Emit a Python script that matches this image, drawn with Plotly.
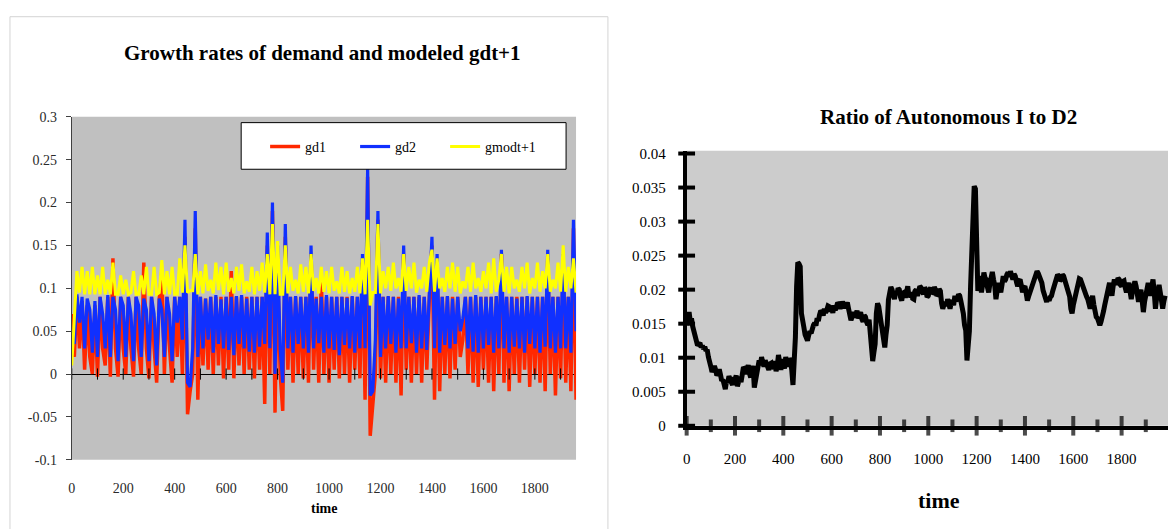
import plotly.graph_objects as go

W, H = 1168, 529

# ---------------- data ----------------
T_LEFT = list(range(0, 1961, 10))

GD1 = [
    0.07, 0.02, 0.09, 0.03, 0.085, 0.005, 0.08, 0.02, 0.0, 0.08,
    -0.003, 0.09, 0.03, 0.01, 0.09, -0.003, 0.135, 0.03, -0.003, 0.09,
    0.03, 0.0, 0.09, 0.03, -0.003, 0.09, 0.03, 0.0, 0.13, 0.03,
    -0.005, 0.09, 0.03, -0.01, 0.088, 0.12, 0.0, 0.09, 0.03, -0.01,
    0.09, 0.02, 0.09, 0.0, 0.16, -0.047, -0.02, 0.0, 0.17, -0.03,
    0.09, 0.01, 0.088, 0.005, 0.09, 0.0, 0.09, 0.01, 0.09, -0.005,
    0.09, 0.005, 0.12, -0.005, 0.09, 0.01, 0.09, 0.0, 0.09, 0.005,
    0.09, -0.005, 0.09, 0.005, 0.09, -0.035, 0.15, 0.0, 0.19, -0.045,
    0.13, 0.0, -0.043, 0.16, 0.005, 0.09, -0.01, 0.09, 0.0, 0.09,
    -0.005, 0.09, -0.01, 0.14, 0.005, 0.09, -0.01, 0.11, 0.0, 0.09,
    -0.01, 0.09, 0.005, 0.09, -0.005, 0.09, 0.0, 0.09, -0.01, 0.09,
    0.005, 0.09, -0.005, 0.13, -0.03, 0.23, -0.072, -0.03, 0.0, 0.18,
    -0.005, 0.09, -0.01, 0.09, 0.0, 0.09, -0.01, 0.09, -0.025, 0.14,
    0.005, 0.09, -0.01, 0.09, 0.0, 0.09, -0.01, 0.09, 0.005, 0.09,
    0.15, -0.03, 0.13, -0.02, 0.09, 0.0, 0.09, -0.005, 0.09, 0.005,
    0.09, 0.02, 0.04, 0.09, 0.0, 0.09, -0.01, 0.09, -0.015, 0.09,
    0.005, 0.09, -0.01, 0.09, -0.02, 0.09, 0.0, 0.14, -0.01, 0.09,
    -0.02, 0.09, 0.0, 0.09, -0.01, 0.09, 0.005, 0.09, -0.015, 0.09,
    0.0, 0.09, -0.01, 0.09, -0.02, 0.135, 0.0, 0.09, -0.025, 0.09,
    -0.005, 0.13, -0.01, 0.09, -0.02, 0.17, -0.03,
]

GD2 = [
    0.05, 0.035, 0.093, 0.06, 0.09, 0.03, 0.088, 0.075, 0.025, 0.085,
    0.02, 0.09, 0.07, 0.03, 0.092, 0.02, 0.09, 0.075, 0.015, 0.09,
    0.08, 0.02, 0.09, 0.07, 0.015, 0.09, 0.08, 0.02, 0.088, 0.075,
    0.015, 0.09, 0.07, 0.01, 0.088, 0.075, 0.02, 0.09, 0.07, 0.015,
    0.09, 0.06, 0.09, 0.04, 0.18, -0.01, -0.015, 0.03, 0.19, 0.02,
    0.09, 0.03, 0.088, 0.04, 0.09, 0.025, 0.092, 0.035, 0.087, 0.03,
    0.09, 0.028, 0.09, 0.022, 0.091, 0.035, 0.092, 0.03, 0.088, 0.026,
    0.09, 0.025, 0.09, 0.032, 0.09, 0.035, 0.165, 0.03, 0.2, 0.0,
    0.15, 0.03, -0.01, 0.175, 0.03, 0.09, 0.025, 0.091, 0.035, 0.09,
    0.03, 0.09, 0.025, 0.15, 0.03, 0.088, 0.036, 0.09, 0.025, 0.092,
    0.03, 0.09, 0.028, 0.09, 0.022, 0.09, 0.034, 0.089, 0.03, 0.091,
    0.025, 0.09, 0.03, 0.14, 0.03, 0.24, -0.025, -0.02, 0.04, 0.19,
    0.02, 0.09, 0.03, 0.091, 0.035, 0.09, 0.025, 0.088, 0.03, 0.15,
    0.03, 0.09, 0.036, 0.09, 0.025, 0.092, 0.03, 0.09, 0.028, 0.09,
    0.16, 0.03, 0.14, 0.025, 0.09, 0.034, 0.091, 0.03, 0.088, 0.035,
    0.09, 0.05, 0.065, 0.09, 0.03, 0.09, 0.026, 0.092, 0.025, 0.09,
    0.03, 0.09, 0.034, 0.09, 0.025, 0.091, 0.03, 0.145, 0.03, 0.09,
    0.025, 0.09, 0.032, 0.088, 0.03, 0.09, 0.025, 0.091, 0.035, 0.09,
    0.03, 0.09, 0.025, 0.09, 0.032, 0.145, 0.03, 0.09, 0.025, 0.09,
    0.03, 0.14, 0.03, 0.09, 0.025, 0.18, 0.05,
]

GMOD = [
    0.01, 0.06, 0.12, 0.095, 0.125, 0.093, 0.12, 0.093, 0.125, 0.093,
    0.115, 0.093, 0.125, 0.093, 0.11, 0.093, 0.13, 0.093, 0.093, 0.115,
    0.093, 0.11, 0.093, 0.095, 0.12, 0.093, 0.093, 0.115, 0.093, 0.125,
    0.093, 0.093, 0.125, 0.093, 0.095, 0.133, 0.093, 0.12, 0.093, 0.125,
    0.093, 0.093, 0.135, 0.095, 0.15, 0.095, 0.097, 0.097, 0.14, 0.093,
    0.12, 0.094, 0.128, 0.097, 0.11, 0.094, 0.13, 0.098, 0.125, 0.093,
    0.13, 0.096, 0.112, 0.094, 0.125, 0.097, 0.128, 0.094, 0.108, 0.096,
    0.125, 0.093, 0.12, 0.097, 0.13, 0.095, 0.14, 0.093, 0.175, 0.093,
    0.155, 0.093, 0.093, 0.15, 0.094, 0.125, 0.097, 0.11, 0.094, 0.128,
    0.096, 0.125, 0.094, 0.14, 0.097, 0.112, 0.094, 0.125, 0.096, 0.12,
    0.094, 0.125, 0.097, 0.108, 0.094, 0.125, 0.096, 0.12, 0.094, 0.112,
    0.096, 0.125, 0.094, 0.135, 0.093, 0.18, 0.08, 0.095, 0.095, 0.175,
    0.094, 0.12, 0.1, 0.125, 0.097, 0.13, 0.1, 0.112, 0.096, 0.14,
    0.097, 0.125, 0.1, 0.13, 0.095, 0.11, 0.1, 0.125, 0.096, 0.13,
    0.145, 0.096, 0.135, 0.1, 0.112, 0.096, 0.125, 0.1, 0.13, 0.096,
    0.125, 0.094, 0.108, 0.1, 0.125, 0.096, 0.13, 0.1, 0.112, 0.096,
    0.12, 0.1, 0.13, 0.094, 0.135, 0.096, 0.11, 0.14, 0.096, 0.125,
    0.094, 0.125, 0.1, 0.11, 0.096, 0.125, 0.1, 0.13, 0.094, 0.112,
    0.1, 0.13, 0.096, 0.12, 0.1, 0.14, 0.096, 0.11, 0.1, 0.13,
    0.096, 0.15, 0.096, 0.125, 0.1, 0.135, 0.095,
]

T_RIGHT = list(range(0, 1981, 5))

RATIO = [
    0.0148, 0.0162, 0.0167, 0.0154, 0.0158, 0.0146, 0.0139, 0.0128, 0.0125, 0.0118,
    0.012, 0.0122, 0.0115, 0.0118, 0.0113, 0.0116, 0.011, 0.0112, 0.0101, 0.0096,
    0.0087, 0.0079, 0.0082, 0.0088, 0.0082, 0.0074, 0.0077, 0.0083, 0.0075, 0.0066,
    0.0068, 0.0062, 0.0054, 0.0066, 0.0063, 0.0073, 0.007, 0.0064, 0.006, 0.0071,
    0.0068, 0.0074, 0.0058, 0.0066, 0.0072, 0.0064, 0.0077, 0.0086, 0.0084, 0.0076,
    0.0082, 0.0089, 0.0077, 0.0071, 0.0082, 0.0088, 0.0056, 0.0064, 0.0072, 0.0088,
    0.0096, 0.0089, 0.0101, 0.0093, 0.0087, 0.0096, 0.0092, 0.0085, 0.0082, 0.0091,
    0.0092, 0.0084, 0.0087, 0.0095, 0.008, 0.0088, 0.0104, 0.0093, 0.0082, 0.0098,
    0.0092, 0.0084, 0.0101, 0.0092, 0.0087, 0.0099, 0.0096, 0.0082, 0.006, 0.0095,
    0.013, 0.0205, 0.024, 0.0238, 0.0234, 0.0165, 0.0158, 0.0145, 0.0134, 0.0128,
    0.0125, 0.0133, 0.0139, 0.0136, 0.0144, 0.0148, 0.0151, 0.0147, 0.0158, 0.0154,
    0.0163, 0.0169, 0.0167, 0.0162, 0.0172, 0.0166, 0.017, 0.0176, 0.0175, 0.0168,
    0.0172, 0.0166, 0.0177, 0.017, 0.0175, 0.0181, 0.0179, 0.0172, 0.0177, 0.0182,
    0.0179, 0.0173, 0.0177, 0.0181, 0.0172, 0.0164, 0.0155, 0.016, 0.0167, 0.0159,
    0.0163, 0.0169, 0.0158, 0.0164, 0.0167, 0.0157, 0.0153, 0.0162, 0.016, 0.0152,
    0.0148, 0.0156, 0.0139, 0.0128, 0.0095, 0.0108, 0.012, 0.0165, 0.018, 0.0175,
    0.0165, 0.0148, 0.0139, 0.0128, 0.0115, 0.0134, 0.0148, 0.0185, 0.0196, 0.0204,
    0.02, 0.019, 0.0186, 0.0197, 0.0193, 0.0202, 0.02, 0.0189, 0.0184, 0.0195,
    0.0196, 0.0188, 0.02, 0.0205, 0.0189, 0.0194, 0.0196, 0.0187, 0.0186, 0.0198,
    0.02, 0.0191, 0.0196, 0.0205, 0.0203, 0.0195, 0.0193, 0.0203, 0.02, 0.0189,
    0.0191, 0.0199, 0.0203, 0.0194, 0.0196, 0.0204, 0.02, 0.0191, 0.0193, 0.0201,
    0.0198, 0.018, 0.0172, 0.0178, 0.0182, 0.0176, 0.0186, 0.0179, 0.0172, 0.0181,
    0.0184, 0.0177, 0.0191, 0.0184, 0.0186, 0.0193, 0.0191, 0.0183, 0.0177, 0.0165,
    0.0148, 0.014, 0.0096, 0.0112, 0.0139, 0.0205, 0.025, 0.0262, 0.0352, 0.0348,
    0.0205, 0.0198, 0.022, 0.0212, 0.0196, 0.0208, 0.0225, 0.0217, 0.0215, 0.0203,
    0.0196, 0.0209, 0.022, 0.0226, 0.0215, 0.0206, 0.0186, 0.0197, 0.021, 0.0203,
    0.0196, 0.0207, 0.022, 0.0212, 0.0215, 0.0222, 0.0225, 0.0219, 0.0227, 0.0221,
    0.0215, 0.0223, 0.022, 0.0211, 0.0205, 0.0213, 0.0215, 0.0206, 0.0196, 0.0203,
    0.0205, 0.0195, 0.0184, 0.019, 0.0196, 0.0201, 0.0205, 0.0211, 0.0215, 0.0222,
    0.0227, 0.0224, 0.022, 0.0214, 0.021, 0.0199, 0.0191, 0.0186, 0.0182, 0.0188,
    0.0184, 0.0189, 0.0191, 0.0198, 0.0205, 0.0211, 0.0215, 0.0222, 0.022, 0.0213,
    0.0215, 0.0222, 0.022, 0.0214, 0.021, 0.0204, 0.02, 0.019, 0.0172, 0.0165,
    0.0177, 0.0186, 0.0196, 0.0204, 0.021, 0.0216, 0.0215, 0.0209, 0.0205, 0.0199,
    0.0196, 0.019, 0.0186, 0.0178, 0.0172, 0.0183, 0.0191, 0.0178, 0.0167, 0.016,
    0.0158, 0.0152, 0.0148, 0.0153, 0.0158, 0.0168, 0.0177, 0.0184, 0.0191, 0.0203,
    0.021, 0.0199, 0.0191, 0.0205, 0.0215, 0.0208, 0.021, 0.0217, 0.0215, 0.0207,
    0.0205, 0.0212, 0.0213, 0.0203, 0.0196, 0.0205, 0.021, 0.0197, 0.0186, 0.0198,
    0.0205, 0.0212, 0.0205, 0.0193, 0.0182, 0.0194, 0.02, 0.0184, 0.0167, 0.0182,
    0.0196, 0.0204, 0.021, 0.0199, 0.0191, 0.0205, 0.0215, 0.0196, 0.0172, 0.0188,
    0.02, 0.0207, 0.0196, 0.0185, 0.0172, 0.0183, 0.0191,
]

X_TICKS = [0, 200, 400, 600, 800, 1000, 1200, 1400, 1600, 1800]
X_TICK_LABELS = ["0", "200", "400", "600", "800", "1000", "1200", "1400", "1600", "1800"]
X_MARKS = [0, 100, 200, 300, 400, 500, 600, 700, 800, 900, 1000,
           1100, 1200, 1300, 1400, 1500, 1600, 1700, 1800, 1900]
LEFT_Y_TICKS = [-0.1, -0.05, 0, 0.05, 0.1, 0.15, 0.2, 0.25, 0.3]
LEFT_Y_LABELS = ["-0.1", "-0.05", "0", "0.05", "0.1", "0.15", "0.2", "0.25", "0.3"]
RIGHT_Y_TICKS = [0, 0.005, 0.01, 0.015, 0.02, 0.025, 0.03, 0.035, 0.04]
RIGHT_Y_LABELS = ["0", "0.005", "0.01", "0.015", "0.02", "0.025", "0.03", "0.035", "0.04"]


def fx(p):
    return p / W


def fy(p):
    return 1 - p / H


SERIF = "Liberation Serif"

fig = go.Figure()

# left chart
fig.add_trace(go.Scatter(x=T_LEFT, y=GD1, mode="lines", name="gd1",
                         line=dict(color="#ff2800", width=3.5), xaxis="x", yaxis="y"))
fig.add_trace(go.Scatter(x=T_LEFT, y=GD2, mode="lines", name="gd2",
                         line=dict(color="#1030ff", width=3.2), xaxis="x", yaxis="y"))
fig.add_trace(go.Scatter(x=T_LEFT, y=GMOD, mode="lines", name="gmodt+1",
                         line=dict(color="#ffff00", width=3), xaxis="x", yaxis="y"))
# tick marks crossing the zero line
fig.add_trace(go.Scatter(x=X_MARKS, y=[0] * len(X_MARKS), mode="markers", showlegend=False,
                         marker=dict(symbol="line-ns", size=8, line=dict(color="black", width=1)),
                         cliponaxis=False, hoverinfo="skip", xaxis="x", yaxis="y"))

# right chart
fig.add_trace(go.Scatter(x=T_RIGHT, y=RATIO, mode="lines", showlegend=False,
                         line=dict(color="black", width=5), xaxis="x2", yaxis="y2"))
fig.add_trace(go.Scatter(x=X_MARKS, y=[0] * len(X_MARKS), mode="markers", showlegend=False,
                         marker=dict(symbol="line-ns",
                                     size=[14 if v in X_TICKS else 9 for v in X_MARKS],
                                     line=dict(color="black", width=4)),
                         cliponaxis=False, hoverinfo="skip", xaxis="x2", yaxis="y2"))
fig.add_trace(go.Scatter(x=[0] * len(RIGHT_Y_TICKS), y=RIGHT_Y_TICKS, mode="markers", showlegend=False,
                         marker=dict(symbol="line-ew", size=12, line=dict(color="black", width=4)),
                         cliponaxis=False, hoverinfo="skip", xaxis="x2", yaxis="y2"))

L_LEFT, L_RIGHT, L_TOP, L_BOT = 68, 574, 113, 466
R_LEFT, R_RIGHT, R_TOP, R_BOT = 685, 1168, 148, 431

fig.update_layout(
    width=W, height=H, autosize=False,
    margin=dict(l=0, r=0, t=0, b=0),
    paper_bgcolor="white", plot_bgcolor="rgba(0,0,0,0)",
    showlegend=True,
    xaxis=dict(domain=[fx(L_LEFT), fx(L_RIGHT)], range=[0, 1960], anchor="y",
               tickvals=X_TICKS, ticktext=X_TICK_LABELS, ticks="", showline=False,
               showgrid=False, zeroline=False, ticklabelstandoff=18,
               tickfont=dict(family=SERIF, size=14, color="#2a2a2a")),
    yaxis=dict(domain=[fy(L_BOT), fy(L_TOP)], range=[-0.1, 0.3], anchor="x",
               tickvals=LEFT_Y_TICKS, ticktext=LEFT_Y_LABELS, ticks="outside", ticklen=5,
               tickcolor="#404040", showline=True, linecolor="#404040", linewidth=1,
               showgrid=False, zeroline=True, zerolinecolor="black", zerolinewidth=1,
               ticklabelstandoff=6,
               tickfont=dict(family=SERIF, size=14, color="#2a2a2a")),
    xaxis2=dict(domain=[fx(R_LEFT), fx(R_RIGHT)], range=[0, 1992], anchor="y2",
                tickvals=X_TICKS, ticktext=X_TICK_LABELS, ticks="", showline=True,
                linecolor="black", linewidth=4, showgrid=False, zeroline=False,
                ticklabelstandoff=16,
                tickfont=dict(family=SERIF, size=15, color="black")),
    yaxis2=dict(domain=[fy(R_BOT), fy(R_TOP)], range=[0, 0.0404], anchor="x2",
                tickvals=RIGHT_Y_TICKS, ticktext=RIGHT_Y_LABELS, ticks="", showline=True,
                linecolor="black", linewidth=4, showgrid=False, zeroline=False,
                ticklabelstandoff=14,
                tickfont=dict(family=SERIF, size=15, color="black")),
    legend=dict(orientation="h", x=fx(262), xanchor="left", y=fy(144), yanchor="middle",
                bgcolor="rgba(0,0,0,0)", borderwidth=0, entrywidth=45, entrywidthmode="pixels",
                font=dict(family=SERIF, size=14, color="black")),
    shapes=[
        # outer border of left chart
        dict(type="rect", xref="paper", yref="paper", x0=fx(6), x1=fx(606), y0=fy(560), y1=fy(10),
             line=dict(color="#d4d4d4", width=1), fillcolor="rgba(0,0,0,0)", layer="below"),
        # plot backgrounds
        dict(type="rect", xref="x domain", yref="y domain", x0=0, x1=1, y0=0, y1=1,
             line=dict(width=0), fillcolor="#c0c0c0", layer="below"),
        dict(type="rect", xref="x2 domain", yref="y2 domain", x0=0, x1=1, y0=0, y1=1,
             line=dict(width=0), fillcolor="#cccccc", layer="below"),
        # legend box
        dict(type="rect", xref="paper", yref="paper", x0=fx(238), x1=fx(564), y0=fy(167), y1=fy(119),
             line=dict(color="black", width=1), fillcolor="white", layer="above"),
    ],
    annotations=[
        dict(text="Growth rates of demand and modeled gdt+1", x=fx(320), y=fy(47),
             xref="paper", yref="paper", showarrow=False, xanchor="center", yanchor="middle",
             font=dict(family=SERIF, size=21, color="black", weight="bold")),
        dict(text="Ratio of Autonomous I to D2", x=fx(948), y=fy(113),
             xref="paper", yref="paper", showarrow=False, xanchor="center", yanchor="middle",
             font=dict(family=SERIF, size=21, color="black", weight="bold")),
        dict(text="time", x=fx(321), y=fy(516), xref="paper", yref="paper", showarrow=False,
             xanchor="center", yanchor="middle",
             font=dict(family=SERIF, size=14, color="black", weight="bold")),
        dict(text="time", x=fx(938), y=fy(508), xref="paper", yref="paper", showarrow=False,
             xanchor="center", yanchor="middle",
             font=dict(family=SERIF, size=22, color="black", weight="bold")),
    ],
)

fig.write_html("out.html")
